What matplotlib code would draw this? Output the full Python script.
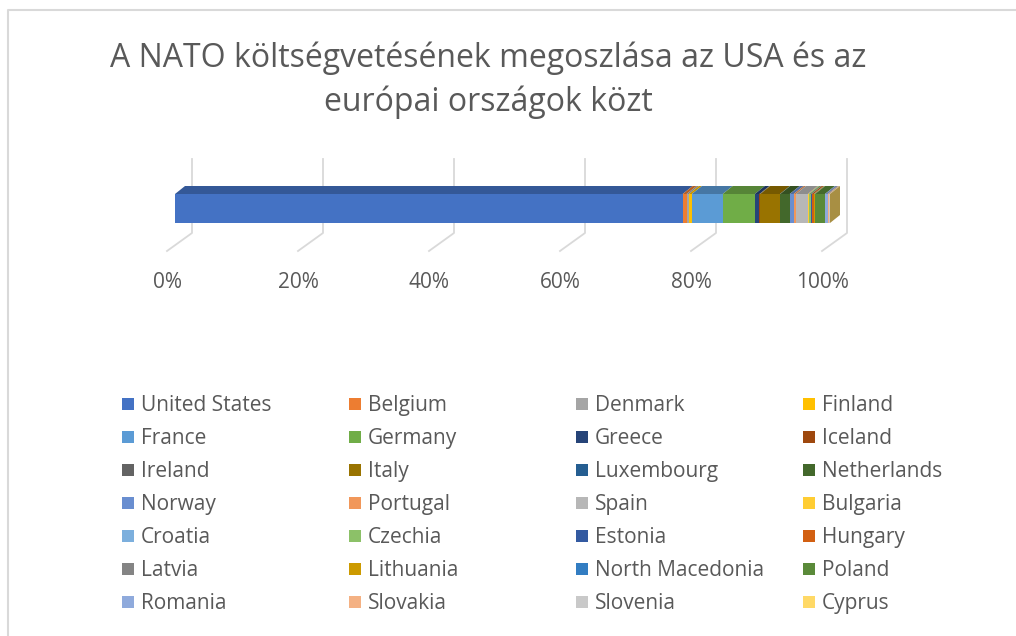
import numpy as np
import matplotlib.pyplot as plt
from matplotlib.patches import Polygon, Rectangle
from matplotlib.colors import to_rgb

# Data (share of NATO budget, %)
countries = ["United States", "Belgium", "Denmark", "Finland",
             "France", "Germany", "Greece", "Iceland",
             "Ireland", "Italy", "Luxembourg", "Netherlands",
             "Norway", "Portugal", "Spain", "Bulgaria",
             "Croatia", "Czechia", "Estonia", "Hungary",
             "Latvia", "Lithuania", "North Macedonia", "Poland",
             "Romania", "Slovakia", "Slovenia", "Cyprus"]
shares = [77.4, 0.6, 0.35, 0.45,
          4.7, 4.9, 0.7, 0.02,
          0.1, 3.0, 0.05, 1.45,
          0.6, 0.35, 1.8, 0.12,
          0.1, 0.3, 0.08, 0.3,
          0.08, 0.12, 0.02, 1.5,
          0.45, 0.2, 0.07, 0.05]
colors = ["#4472C4", "#ED7D31", "#A5A5A5", "#FFC000",
          "#5B9BD5", "#70AD47", "#264478", "#9E480E",
          "#636363", "#997300", "#255E91", "#43682B",
          "#698ED0", "#F1975A", "#B7B7B7", "#FFCD33",
          "#7CAFDD", "#8CC168", "#335AA1", "#D26012",
          "#848484", "#CC9A00", "#327DC2", "#5A8A39",
          "#8FAADC", "#F4B183", "#C9C9C9", "#FFD966"]
ticks = [0, 20, 40, 60, 80, 100]
tick_labels = ["0%", "20%", "40%", "60%", "80%", "100%"]
title = "A NATO költségvetésének megoszlása az USA és az\neurópai országok közt"

plt.rcParams['font.family'] = ['Open Sans', 'DejaVu Sans']
text_color = "#595959"
grid_color = "#D9D9D9"

W, H = 1016, 636
fig = plt.figure(figsize=(W / 100, H / 100), dpi=100)

# overlay axes in pixel units (for frame, title, legend)
lay = fig.add_axes([0, 0, 1, 1])
lay.set_xlim(0, W)
lay.set_ylim(H, 0)
lay.axis("off")
lay.plot([8, 8, W + 5], [H + 5, 10, 10], color=grid_color, lw=1.5, clip_on=False)

# plot axes: x in percent, y in pixel rows from top
x0, x1 = 175, 830
ax = fig.add_axes([x0 / W, (H - 300) / H, (x1 - x0) / W, 300 / H])
ax.set_xlim(0, 100)
ax.set_ylim(300, 0)
ax.axis("off")
px = (x1 - x0) / 100.0  # pixels per percent

pct = 100 * np.array(shares) / np.sum(shares)
left = np.cumsum(pct) - pct

bar_top, bar_h = 194, 29
dx, dy = 10 / px, -8

# gridlines (back wall + floor)
for t, lab in zip(ticks, tick_labels):
    bx = t + 17 / px
    fx = t - 8 / px
    ax.plot([bx, bx, fx], [159, 233, 251], color=grid_color, lw=1.3,
            zorder=1, clip_on=False)
    ax.text(fx, 282, lab, ha="center", va="center", fontsize=15,
            color=text_color, clip_on=False)

ax.barh(bar_top + bar_h / 2, pct, left=left, height=bar_h, color=colors,
        linewidth=0, zorder=3)


def shade(c, f):
    return tuple(v * f for v in to_rgb(c))


for l, w, c in zip(left, pct, colors):
    top = Polygon([(l, bar_top), (l + w, bar_top), (l + w + dx, bar_top + dy),
                   (l + dx, bar_top + dy)], closed=True, fc=shade(c, 0.77),
                  ec="none", zorder=3, clip_on=False)
    ax.add_patch(top)

r = left[-1] + pct[-1]
side = Polygon([(r, bar_top), (r + dx, bar_top + dy),
                (r + dx, bar_top + bar_h + dy), (r, bar_top + bar_h)],
               closed=True, fc=shade(colors[-1], 0.66), ec="none",
               zorder=3, clip_on=False)
ax.add_patch(side)

# title
lay.text(488, 80, title, ha="center", va="center", fontsize=23,
         color=text_color, linespacing=1.42)

# legend
col_x = [122, 349, 576, 803]
for i, (name, c) in enumerate(zip(countries, colors)):
    cx = col_x[i % 4]
    cy = 404 + 33 * (i // 4)
    lay.add_patch(Rectangle((cx, cy - 6), 12, 12, fc=c, ec="none"))
    lay.text(cx + 19, cy - 1, name, ha="left", va="center_baseline",
             fontsize=15, color=text_color)

fig.savefig("out.png", dpi=100)
